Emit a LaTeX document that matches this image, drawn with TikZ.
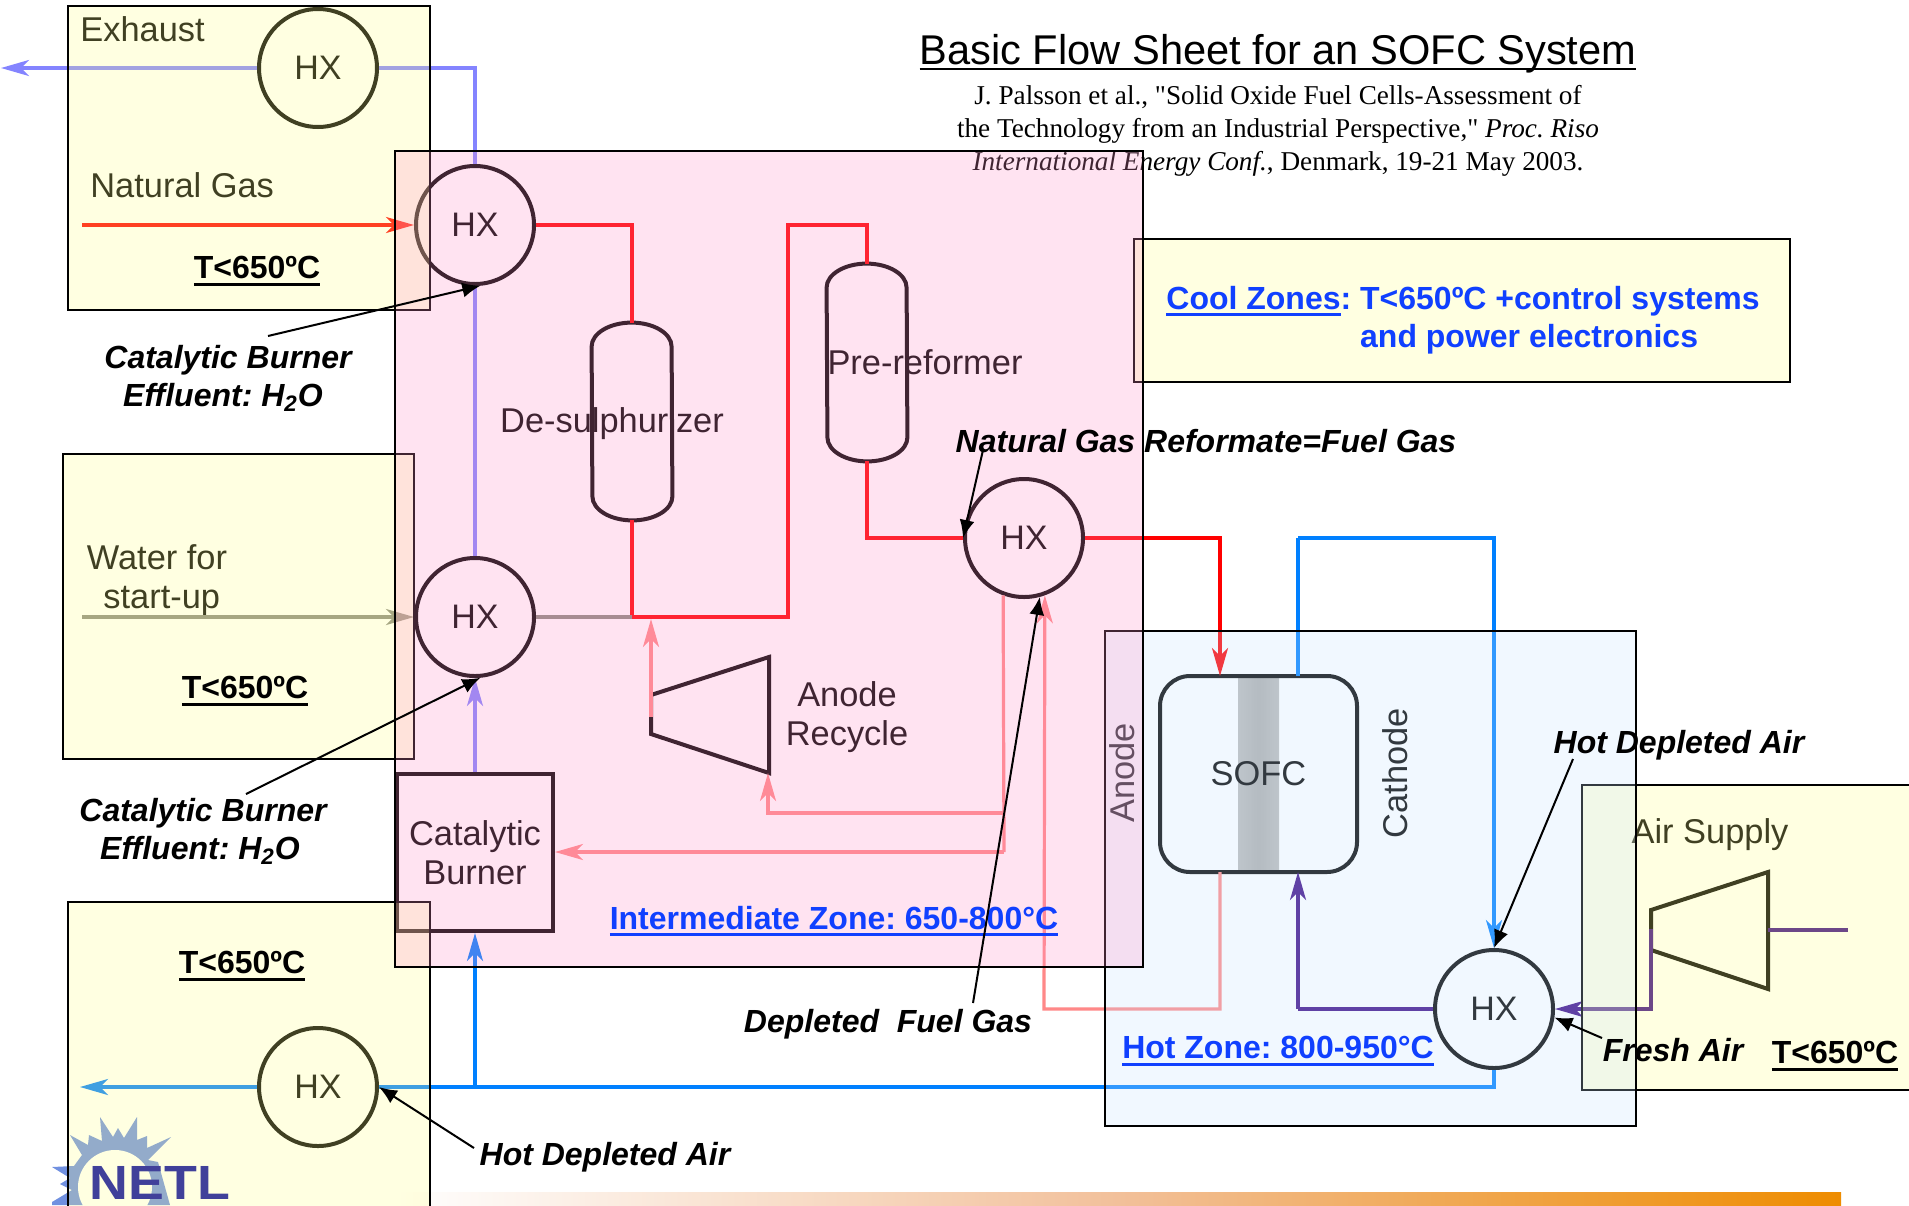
\documentclass[tikz,border=0pt]{standalone}
\usepackage{fontspec}
\setmainfont{Liberation Sans}
\newfontfamily\citefont{Liberation Serif}
\usetikzlibrary{positioning, calc, arrows.meta}
\frenchspacing

\definecolor{flowred}{HTML}{FF0000}
\definecolor{flowpink}{HTML}{FF8888}
\definecolor{flowblue}{HTML}{0080FF}
\definecolor{flowlilac}{HTML}{8484FF}
\definecolor{flowgrey}{HTML}{8A8A80}
\definecolor{flowpurple}{HTML}{3C0A88}
\definecolor{zonetext}{HTML}{1040FF}
\definecolor{logoray}{HTML}{7090E0}
\definecolor{logotext}{HTML}{0000A0}
\definecolor{barorange}{HTML}{EE8C00}
\definecolor{barmiddle}{HTML}{F2C09A}

% underline with a chosen thickness
\newcommand{\ulthick}[2][1.5pt]{{\setbox0\hbox{#2}\dp0=0pt \vtop{\box0 \kern2pt \hrule height #1}}}

\tikzset{
    hxunit/.style={draw=black, circle, line width=2pt, minimum size=59pt, inner sep=0pt, font=\fontsize{17}{20}\selectfont},
    unitbody/.style={draw=black, line width=2pt},
    unitlabel/.style={font=\fontsize{17.2}{19.5}\selectfont, align=center, inner sep=0pt},
    calllabel/.style={font=\fontsize{16}{19}\selectfont\bfseries\itshape, align=center, inner sep=0pt},
    templabel/.style={font=\fontsize{16}{19}\selectfont\bfseries, inner sep=0pt},
    zonelabel/.style={font=\fontsize{16}{19}\selectfont\bfseries, text=zonetext, inner sep=0pt},
    flow/.style={line width=1.6pt},
    flowtip/.style={flow, -{Stealth[length=14pt,width=8pt,inset=4pt]}},
    callout/.style={line width=1pt, -{Latex[length=9pt,width=7.5pt]}},
    yellowzone/.style={draw=black, line width=0.7pt, fill={rgb,255:red,255;green,255;blue,139}, fill opacity=0.25},
    bluezone/.style={draw=black, line width=0.7pt, fill={rgb,255:red,203;green,231;blue,255}, fill opacity=0.25},
    pinkzone/.style={draw=black, line width=0.7pt, fill={rgb,255:red,255;green,147;blue,203}, fill opacity=0.25}
}

% round-headed vessel drawn round a named node
\newcommand{\vesselbody}[1]{%
    \draw[unitbody] ([yshift=-12pt]#1.north west) arc[start angle=180, end angle=0, x radius=20pt, y radius=12pt]
        -- ([yshift=12pt]#1.south east) arc[start angle=0, end angle=-180, x radius=20pt, y radius=12pt] -- cycle;}

\begin{document}
\begin{tikzpicture}[x=0.5pt,y=-0.5pt]
    \useasboundingbox (0,0) rectangle (1909,1205);
    \fill[white] (0,0) rectangle (1909,1205);

    % 1. Footer bar and logo
    \shade[left color=white, right color=barorange, middle color=barmiddle] (395,1192) rectangle (1841,1205);
    \fill[logoray] (52,1205) -- (52,1202) -- (72,1190) -- (60,1184) -- (70,1178) -- (52,1167) -- (74,1166)
        -- (82,1155) -- (70,1135) -- (88,1145) -- (89,1135) -- (102,1141) -- (100,1117) -- (113,1137) -- (118,1128)
        -- (124,1138) -- (137,1117) -- (137,1140) -- (147,1136) -- (147,1148) -- (171,1137) -- (148,1160) -- (158,1162) -- (170,1205) -- cycle;
    \fill[white] (115,1187) circle[radius=18.5pt];
    \node[font=\fontsize{24}{28}\selectfont\bfseries, text=logotext, anchor=base, inner sep=0pt] (netl) at (160,1199) {\scalebox{1.12}[1]{NETL}};

    % 2. Units
    \node[hxunit] (hxexh) at (318,68) {HX};
    \node[hxunit] (hxtop) at (475,225) {HX};
    \node[hxunit] (hxwat) at (475,617) {HX};
    \node[hxunit] (hxref) at (1024,538) {HX};
    \node[hxunit] (hxout) at (318,1087) {HX};
    \node[hxunit] (hxair) at (1494,1009) {HX};

    \node[minimum width=40pt, minimum height=98.5pt, inner sep=0pt] (desulf) at (632,421.5) {};
    \vesselbody{desulf}
    \node[unitlabel] (desulftxt) at (612,424) {De-sulphurizer};
    \node[minimum width=40pt, minimum height=98.5pt, inner sep=0pt] (prerefm) at (867,362.5) {};
    \vesselbody{prerefm}
    \node[unitlabel] (prereftxt) at (925,362) {Pre-reformer};

    \node[draw=black, line width=2pt, minimum width=78pt, minimum height=78.5pt, inner sep=0pt, unitlabel] (burner) at (475,852.5) {Catalytic\\Burner};

    \shade[left color=black!27, right color=black!27, middle color=black!32] (1238,677) rectangle (1279,871);
    \node[draw=black, line width=2pt, rounded corners=15pt, minimum width=98.5pt, minimum height=98pt, inner sep=0pt, unitlabel] (sofc) at (1258.5,774) {SOFC};

    \draw[unitbody] (651,695) -- (769,657) -- (769,773) -- (651,734) -- cycle;
    \draw[unitbody] (1651,910) -- (1768,872) -- (1768,989) -- (1651,950) -- cycle;

    \node[unitlabel] (recycletxt) at (847,717) {Anode\\Recycle};
    \node[unitlabel, rotate=90] (anodetxt) at (1122,773) {Anode};
    \node[unitlabel, rotate=90] (cathodetxt) at (1395,773) {Cathode};
    \node[unitlabel, anchor=west] (exhausttxt) at (80,29) {Exhaust};
    \node[unitlabel, anchor=west] (gastxt) at (90,185) {Natural Gas};
    \node[unitlabel] (watertxt) at (157,580) {Water for\\\ start-up};
    \node[unitlabel] (airtxt) at (1710,835) {Air Supply};

    % 3. Title and reference (under the zones)
    \node[font=\fontsize{20.8}{24}\selectfont, inner sep=0pt] (title) at (1278,52) {\ulthick[1pt]{Basic Flow Sheet for an SOFC System}};
    \node[font=\citefont\fontsize{13.6}{16.5}\selectfont, align=center, inner sep=0pt] (ref) at (1278,131)
        {J. Palsson et al., "Solid Oxide Fuel Cells-Assessment of\\the Technology from an Industrial Perspective," \textit{Proc. Riso}\\\textit{International Energy Conf.}, Denmark, 19-21 May 2003.};

    % 4. Free ends and bends of the flow lines
    \coordinate (exhend) at (1,68);
    \coordinate (gasin) at (82,225);
    \coordinate (waterin) at (82,617);
    \coordinate (mixpt) at (632,617);
    \coordinate (riser) at (788,225);
    \coordinate (recout) at (651,717);
    \coordinate (recin) at (768,773);
    \coordinate (mixtip) at (651,619);
    \coordinate (sofcin) at (1220,676);
    \coordinate (sofcout) at (1220,872);
    \coordinate (cathin) at (1298,872);
    \coordinate (cathout) at (1298,676);
    \coordinate (topline) at (1298,538);
    \coordinate (pinkturn) at (1220,1009);
    \coordinate (retbase) at (1044,1009);
    \coordinate (burnfeed) at (1004,852);
    \coordinate (recfeed) at (1004,813);
    \coordinate (outtee) at (475,1087);
    \coordinate (outend) at (80,1087);
    \coordinate (purpturn) at (1298,1009);
    \coordinate (airfeed) at (1651,929);
    \coordinate (airdis) at (1768,930);
    \coordinate (airend) at (1848,930);

    % 5. Flow lines
    \draw[flow, flowlilac] (hxtop.north) |- (hxexh.east);
    \draw[flowtip, flowlilac] (hxexh.west) -- (exhend);
    \draw[flow, flowlilac] (hxwat.north) -- (hxtop.south);
    \draw[flowtip, flowlilac] (burner.north) -- (hxwat.south);

    \draw[flowtip, flowred] (gasin) -- (hxtop.west);
    \draw[flow, flowred] (hxtop.east) -| (desulf.north);
    \draw[flow, flowred] (desulf.south) -- (mixpt) -| (riser) -| (prerefm.north);
    \draw[flow, flowred] (prerefm.south) |- (hxref.west);
    \draw[flowtip, flowred] (hxref.east) -| (sofcin);

    \draw[flowtip, flowgrey] (waterin) -- (hxwat.west);
    \draw[flow, flowgrey] (hxwat.east) -- (mixpt);

    \draw[flowtip, flowpink] (recout) -- (mixtip);
    \draw[flowtip, flowpink] (sofcout) -- (pinkturn) -- (retbase) -- (hxref.-70);
    \draw[flow, flowpink] (hxref.-110) -- (burnfeed);
    \draw[flowtip, flowpink] (burnfeed) -- (burnfeed -| burner.east);
    \draw[flowtip, flowpink] (recfeed) -| (recin);

    \draw[flow, flowblue] (cathout) -- (topline);
    \draw[flowtip, flowblue] (topline) -| (hxair.north);
    \draw[flow, flowblue] (hxair.south) |- (hxout.east);
    \draw[flowtip, flowblue] (outtee) -- (burner.south);
    \draw[flowtip, flowblue] (hxout.west) -- (outend);

    \draw[flow, flowpurple] (hxair.west) -- (purpturn);
    \draw[flowtip, flowpurple] (purpturn) -- (cathin);
    \draw[flowtip, flowpurple] (airfeed) |- (hxair.east);
    \draw[flow, flowpurple] (airdis) -- (airend);

    % 6. Temperature zones, laid over everything above
    \draw[yellowzone] (68,6) rectangle (430,310);
    \draw[yellowzone] (63,454) rectangle (414,759);
    \draw[yellowzone] (68,902) rectangle (430,1215);
    \draw[yellowzone] (1582,785) rectangle (1915,1090);
    \draw[yellowzone] (1134,239) rectangle (1790,382);
    \draw[bluezone] (1105,631) rectangle (1636,1126);
    \draw[pinkzone] (395,151) rectangle (1143,967);

    % 7. Labels on top of the zones
    \node[templabel] (tempa) at (257,271) {\ulthick{T<650ºC}};
    \node[templabel] (tempb) at (245,691) {\ulthick{T<650ºC}};
    \node[templabel] (tempc) at (242,966) {\ulthick{T<650ºC}};
    \node[templabel] (tempd) at (1835,1056) {\ulthick{T<650ºC}};

    \node[zonelabel] (zonemid) at (834,921) {\ulthick{Intermediate Zone: 650-800°C}};
    \node[zonelabel] (zonehot) at (1278,1051) {\ulthick{Hot Zone: 800-950°C}};
    \node[zonelabel, anchor=base west] (zonecool) at (1166,309) {\ulthick{Cool Zones}: T<650ºC +control systems};
    \node[zonelabel, anchor=base west] (zonecooltwo) at (1166,347) {\phantom{Cool Zones: }and power electronics};

    \node[calllabel] (callcata) at (228,378) {Catalytic Burner\\Effluent: H\textsubscript{2}O\hspace*{5pt}};
    \node[calllabel] (callcatb) at (203,831) {Catalytic Burner\\Effluent: H\textsubscript{2}O\hspace*{3pt}};
    \node[calllabel] (callref) at (1206,441) {Natural Gas Reformate=Fuel Gas};
    \node[calllabel] (calldep) at (888,1024) {Depleted\ \ Fuel Gas};
    \node[calllabel] (callhot) at (605,1157) {Hot Depleted Air};
    \node[calllabel] (callhotb) at (1679,745) {Hot Depleted Air};
    \node[calllabel] (callfresh) at (1673,1050) {Fresh Air};

    % 8. Callout arrows
    \coordinate (fromcata) at (268,336);
    \coordinate (fromcatb) at (246,794);
    \coordinate (fromref) at (983,450);
    \coordinate (fromdep) at (973,1003);
    \coordinate (fromhot) at (474,1148);
    \coordinate (fromhotb) at (1573,759);
    \coordinate (fromfresh) at (1602,1038);
    \draw[callout] (fromcata) -- (hxtop.-85);
    \draw[callout] (fromcatb) -- (hxwat.-85);
    \draw[callout] (fromref) -- (hxref.west);
    \draw[callout] (fromdep) -- (hxref.-75);
    \draw[callout] (fromhot) -- (hxout.east);
    \draw[callout] (fromhotb) -- (hxair.north);
    \draw[callout] (fromfresh) -- (hxair.-8);
\end{tikzpicture}
\end{document}
